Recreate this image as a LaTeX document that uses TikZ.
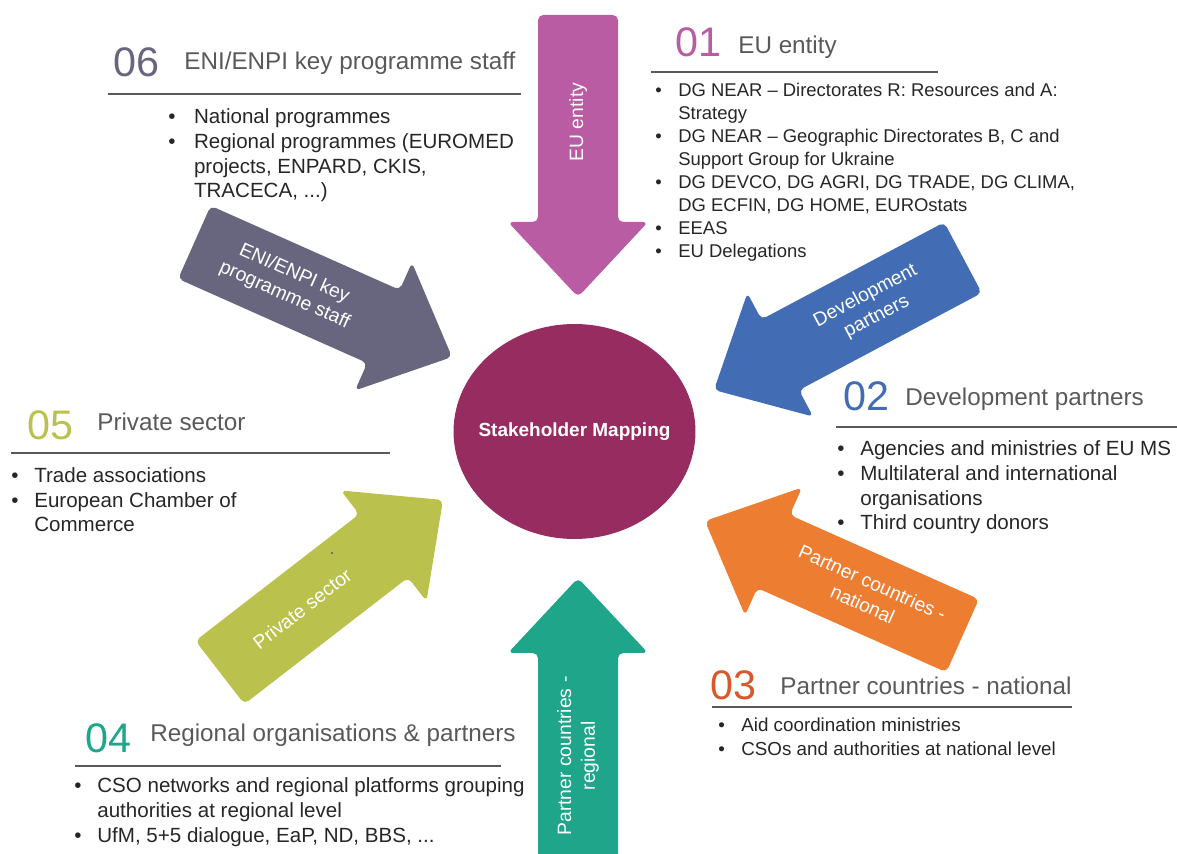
\documentclass[tikz,border=0pt]{standalone}
\usepackage{fontspec}
\setmainfont{Liberation Sans}
\usepackage{xcolor}
\usetikzlibrary{shapes.geometric}

\definecolor{eupurple}{HTML}{B95CA3}
\definecolor{enislate}{HTML}{68657F}
\definecolor{devblue}{HTML}{426DB5}
\definecolor{natorange}{HTML}{ED7D31}
\definecolor{natred}{HTML}{D9572B}
\definecolor{regteal}{HTML}{1FA58A}
\definecolor{privolive}{HTML}{BAC24D}
\definecolor{hubwine}{HTML}{962C60}
\definecolor{headgray}{HTML}{595959}
\definecolor{listgray}{HTML}{262626}

% bullet and continuation indent for the lists
\newcommand{\bitem}[1][0.46cm]{\makebox[#1][l]{•}}
\newcommand{\bcont}[1][0.46cm]{\hspace*{#1}}

\tikzset{
  numlabel/.style={anchor=base west, inner sep=0pt, font=\fontsize{23.5}{28}\selectfont},
  heading/.style={anchor=base west, inner sep=0pt, text=headgray, font=\fontsize{13.8}{16}\selectfont},
  rule/.style={draw=headgray, line width=0.8pt},
  % lists sit on the baseline of their last line
  biglist/.style={anchor=base west, inner sep=0pt, align=left, text=listgray, font=\fontsize{11.7}{14.2}\selectfont},
  smalllist/.style={anchor=base west, inner sep=0pt, align=left, text=listgray, font=\fontsize{10.5}{13.1}\selectfont},
  arrowtext/.style={inner sep=0pt, text=white, align=center, font=\fontsize{11}{13.5}\selectfont},
  hub/.style={ellipse, fill=hubwine, inner sep=0pt, minimum width=4.84cm, minimum height=4.3cm},
  hubtext/.style={inner sep=0pt, text=white, font=\bfseries\fontsize{10.8}{13}\selectfont},
}

\begin{document}
\begin{tikzpicture}[x=0.02cm, y=-0.02cm]
\clip (0,0) rectangle (1177,854);

% the six arrows, tip at the shift point
\begin{scope}[shift={(578,297)}, rotate=-90]
\fill[eupurple, rounded corners=3pt] (-282,-40) -- (-75,-40) -- (-75,-70) -- (0,0) -- (-75,70) -- (-75,40) -- (-282,40) -- cycle;
\node[arrowtext, rotate=90] (lbl-eu) at (-175,0) {EU entity};
\end{scope}

\begin{scope}[shift={(714,390)}, rotate=-152]
\fill[devblue, rounded corners=3pt] (-282,-40) -- (-75,-40) -- (-75,-70) -- (0,0) -- (-75,70) -- (-75,40) -- (-282,40) -- cycle;
\node[arrowtext, rotate=28] (lbl-dev) at (-178,0) {Development\\partners};
\end{scope}

\begin{scope}[shift={(705,521)}, rotate=156]
\fill[natorange, rounded corners=3pt] (-282,-40) -- (-75,-40) -- (-75,-70) -- (0,0) -- (-75,70) -- (-75,40) -- (-282,40) -- cycle;
\node[arrowtext, rotate=-24] (lbl-nat) at (-178,0) {Partner countries -\\national};
\end{scope}

\begin{scope}[shift={(578,578)}, rotate=90]
\fill[regteal, rounded corners=3pt] (-282,-40) -- (-75,-40) -- (-75,-70) -- (0,0) -- (-75,70) -- (-75,40) -- (-282,40) -- cycle;
\node[arrowtext, rotate=90] (lbl-reg) at (-178,0) {Partner countries -\\regional};
\end{scope}

\begin{scope}[shift={(443,500)}, rotate=37.7]
\fill[privolive, rounded corners=3pt] (-282,-40) -- (-75,-40) -- (-75,-70) -- (0,0) -- (-75,70) -- (-75,40) -- (-282,40) -- cycle;
\node[arrowtext, rotate=37.7] (lbl-priv) at (-178,0) {Private sector};
\end{scope}
\fill[headgray] (332,553) circle (0.6pt);

\begin{scope}[shift={(452,357)}, rotate=-24]
\fill[enislate, rounded corners=3pt] (-282,-40) -- (-75,-40) -- (-75,-70) -- (0,0) -- (-75,70) -- (-75,40) -- (-282,40) -- cycle;
\node[arrowtext, rotate=-24] (lbl-eni) at (-178,0) {ENI/ENPI key\\programme staff};
\end{scope}

% centre
\node[hub] (mapping) at (574.5,431.5) {};
\node[hubtext] (mapping-text) at (mapping.center) {Stakeholder Mapping};

% 01 EU entity
\node[numlabel, text=eupurple] (num-eu) at (675,57) {01};
\node[heading] (head-eu) at (738,54) {EU entity};
\draw[rule] (651,72) -- (938,72);
\node[smalllist] (list-eu) at (655,258) {%
\bitem DG NEAR – Directorates R: Resources and A:\\
\bcont Strategy\\
\bitem DG NEAR – Geographic Directorates B, C and\\
\bcont Support Group for Ukraine\\
\bitem DG DEVCO, DG AGRI, DG TRADE, DG CLIMA,\\
\bcont DG ECFIN, DG HOME, EUROstats\\
\bitem EEAS\\
\bitem EU Delegations};

% 02 Development partners
\node[numlabel, text=devblue] (num-dev) at (843,411) {02};
\node[heading] (head-dev) at (905,406) {Development partners};
\draw[rule] (836,427) -- (1177,427);
\node[biglist] (list-dev) at (837,530) {%
\bitem Agencies and ministries of EU MS\\
\bitem Multilateral and international\\
\bcont organisations\\
\bitem Third country donors};

% 03 Partner countries - national
\node[numlabel, text=natred] (num-nat) at (710,700) {03};
\node[heading] (head-nat) at (780,695) {Partner countries - national};
\draw[rule] (712,707) -- (1072,707);
\node[smalllist, font=\fontsize{10.7}{13.1}\selectfont] (list-nat) at (718,755) {%
\bitem Aid coordination ministries\\
\bitem CSOs and authorities at national level};

% 04 Regional organisations & partners
\node[numlabel, text=regteal] (num-reg) at (85,752) {04};
\node[heading] (head-reg) at (150,742) {Regional organisations \& partners};
\draw[rule] (75,766) -- (501,766);
\node[biglist] (list-reg) at (74,842) {%
\bitem CSO networks and regional platforms grouping\\
\bcont authorities at regional level\\
\bitem UfM, 5+5 dialogue, EaP, ND, BBS, ...};

% 05 Private sector
\node[numlabel, text=privolive] (num-priv) at (27,440) {05};
\node[heading] (head-priv) at (97,431) {Private sector};
\draw[rule] (11,453) -- (390,453);
\node[biglist] (list-priv) at (11,532) {%
\bitem Trade associations\\
\bitem European Chamber of\\
\bcont Commerce};

% 06 ENI/ENPI key programme staff
\node[numlabel, text=enislate] (num-eni) at (113,77) {06};
\node[heading] (head-eni) at (184,70) {ENI/ENPI key programme staff};
\draw[rule] (108,94) -- (521,94);
\node[biglist] (list-eni) at (168,198) {%
\bitem[0.4cm] National programmes\\
\bitem[0.4cm] Regional programmes (EUROMED\\
\bcont[0.4cm] projects, ENPARD, CKIS,\\
\bcont[0.4cm] TRACECA, ...)};
\end{tikzpicture}
\end{document}
